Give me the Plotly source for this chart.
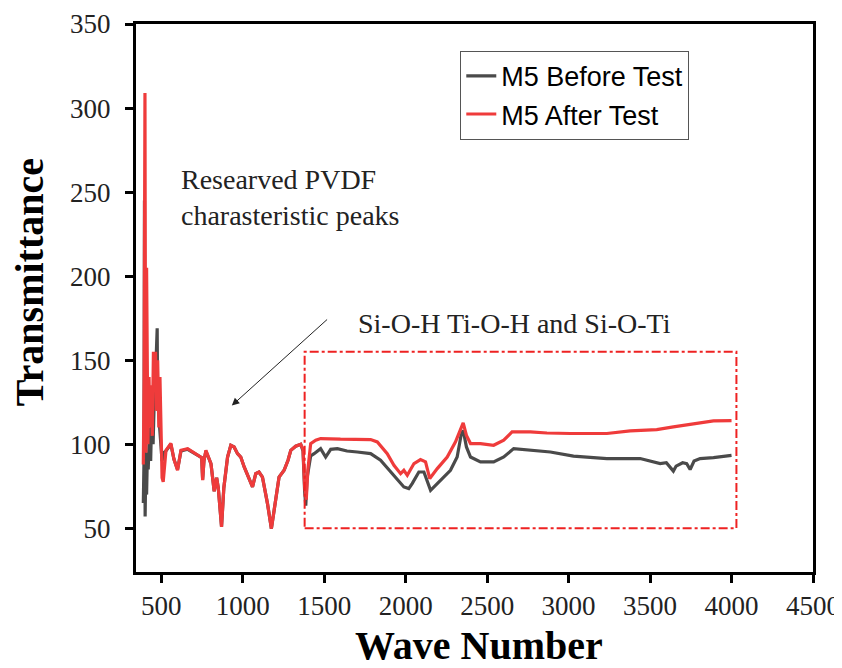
import plotly.graph_objects as go

# ---- data ----
before_x = [390, 394, 397, 399, 401, 405, 410, 415, 420, 428, 435, 442, 450, 458, 465, 470, 475, 478,
            485, 490, 498, 505, 515, 529, 559, 578, 600, 621, 662, 731, 748, 754, 762, 774, 805, 825,
            840, 850, 870, 884, 907, 927, 947, 968, 988, 1009, 1039, 1060, 1080, 1100, 1121, 1152, 1176,
            1197, 1223, 1254, 1278, 1295, 1325, 1356, 1370, 1380, 1387, 1395, 1417, 1438, 1478, 1509,
            1540, 1581, 1640, 1703, 1785, 1846, 1907, 1948, 1989, 2019, 2040, 2081, 2112, 2153, 2203,
            2275, 2316, 2340, 2353, 2373, 2398, 2459, 2540, 2602, 2663, 2765, 2888, 3030, 3235, 3439,
            3562, 3600, 3643, 3660, 3700, 3725, 3746, 3770, 3807, 3889, 4000]
before_y = [65, 90, 245, 100, 57, 85, 70, 95, 85, 110, 90, 120, 100, 130, 140, 155, 169, 120,
            140, 110, 100, 90, 95, 96, 100, 91, 85, 96, 97, 93, 92, 79, 90, 96, 88.5, 72,
            80, 74, 51, 74, 92.4, 99.4, 98.4, 94.4, 92.4, 86.5, 79.6, 74.6, 82.5, 83.5, 80.5, 64.7, 49.8,
            64.7, 80.5, 84.5, 90.5, 96.4, 98.8, 100, 96, 72, 63.5, 80, 93, 94.4, 97.4, 92.4,
            97, 97.4, 96, 95.4, 94.4, 90.5, 83.5, 78.6, 74.6, 73.6, 76.6, 83.5, 83.5, 72.6, 77.6,
            84.5, 92.4, 105.3, 108.3, 98.4, 92.4, 89.5, 89.5, 92.4, 97.4, 96.4, 95.4, 92.9, 91.5, 91.5,
            88.5, 89, 84, 87, 89, 88.5, 85, 90, 91.5, 92, 93.4]

after_x = [390, 395, 398, 400, 403, 406, 410, 413, 418, 425, 430, 438, 445, 452, 458, 465, 470, 478,
           485, 492, 500, 505, 512, 529, 559, 578, 600, 621, 662, 731, 748, 754, 762, 774, 805, 825,
           840, 850, 870, 884, 907, 927, 947, 968, 988, 1009, 1039, 1060, 1080, 1100, 1121, 1152, 1176,
           1197, 1223, 1254, 1278, 1295, 1325, 1356, 1370, 1380, 1390, 1400, 1417, 1448, 1478, 1600,
           1700, 1785, 1826, 1887, 1928, 1969, 1989, 2010, 2051, 2091, 2122, 2148, 2194, 2255, 2306,
           2337, 2353, 2373, 2398, 2459, 2540, 2602, 2653, 2765, 2867, 3010, 3235, 3378, 3541, 3643,
           3787, 3889, 4000]
after_y = [88, 140, 245, 309, 150, 95, 205, 120, 100, 140, 110, 135, 105, 155, 140, 155, 120, 150,
           110, 140, 95, 80, 77.6, 96.4, 100.5, 91, 84.5, 96.4, 97.4, 93, 92, 78.6, 90, 96.4, 88.5, 72,
           80, 74, 50.8, 74, 92.4, 99.4, 98.4, 94.4, 92.4, 86.5, 79.6, 74.6, 82.5, 83.5, 80.5, 64.7, 49.8,
           64.7, 80.5, 84.5, 90.5, 96.4, 98.8, 100, 97, 75, 67, 85, 100.4, 102.4, 103.4, 103,
           103, 102.8, 101.4, 94.4, 87.5, 82.5, 84.5, 81.5, 88.5, 90.9, 89.5, 79.6, 85.5, 92.4, 101.4,
           108.3, 112.7, 105.3, 100.4, 100.4, 99.4, 102.4, 107.3, 107.3, 106.7, 106.4, 106.4, 107.9, 108.7, 110.3,
           112.3, 113.9, 114]

x_ticks = [500, 1000, 1500, 2000, 2500, 3000, 3500, 4000, 4500]
y_ticks = [50, 100, 150, 200, 250, 300, 350]

serif = "Liberation Serif, Times New Roman, serif"

fig = go.Figure()
fig.add_trace(go.Scatter(x=before_x, y=before_y, mode="lines", name="M5 Before Test",
                         line=dict(color="#4a4a4a", width=3.2)))
fig.add_trace(go.Scatter(x=after_x, y=after_y, mode="lines", name="M5 After Test",
                         line=dict(color="#ef3b3b", width=3.2)))

fig.add_shape(type="rect", x0=1380, x1=4030, y0=50, y1=155, xref="x", yref="y",
              line=dict(color="#ee2222", width=2, dash="dashdot"))

fig.add_annotation(x=608, y=247, xref="x", yref="y", xanchor="left", yanchor="middle",
                   text="Researved PVDF<br>charasteristic peaks", showarrow=False, align="left",
                   font=dict(family=serif, size=28, color="#222"))
fig.add_annotation(x=1693, y=172, xref="x", yref="y", xanchor="left", yanchor="middle",
                   text="Si-O-H Ti-O-H and Si-O-Ti", showarrow=False,
                   font=dict(family=serif, size=28, color="#222"))
fig.add_annotation(x=933, y=123, ax=1527, ay=175, xref="x", yref="y", axref="x", ayref="y",
                   text="", showarrow=True, arrowhead=2, arrowsize=1.5, arrowwidth=1, arrowcolor="#222")

# axis titles
fig.add_annotation(x=-0.158, y=0.529, xref="paper", yref="paper", xanchor="center", yanchor="middle",
                   text="<b>Transmittance</b>", textangle=-90, showarrow=False,
                   font=dict(family=serif, size=40, color="black"))
fig.add_annotation(x=0.506, y=-0.179, xref="paper", yref="paper", xanchor="center", yanchor="bottom",
                   text="<b>Wave Number</b>", showarrow=False,
                   font=dict(family=serif, size=40, color="black"))

axis_common = dict(showline=True, linewidth=3, linecolor="black", mirror=True, ticks="outside",
                   ticklen=8, tickwidth=3, tickcolor="black", showgrid=False, zeroline=False,
                   automargin=False,
                   tickfont=dict(family=serif, size=27, color="#222"))

fig.update_layout(
    width=842, height=668,
    margin=dict(l=128, r=37, t=16, b=104),
    plot_bgcolor="white", paper_bgcolor="white",
    showlegend=True,
    legend=dict(x=0.479, y=0.951, xanchor="left", yanchor="top", bordercolor="#555", borderwidth=1,
                bgcolor="white", font=dict(family="Liberation Sans, Arial, sans-serif", size=27, color="black"),
                tracegroupgap=0),
    xaxis=dict(range=[345, 4500], tickvals=x_ticks, **axis_common),
    yaxis=dict(range=[24, 350], tickvals=y_ticks, ticklabelstandoff=9, **axis_common),
)

fig.write_html("out.html")
